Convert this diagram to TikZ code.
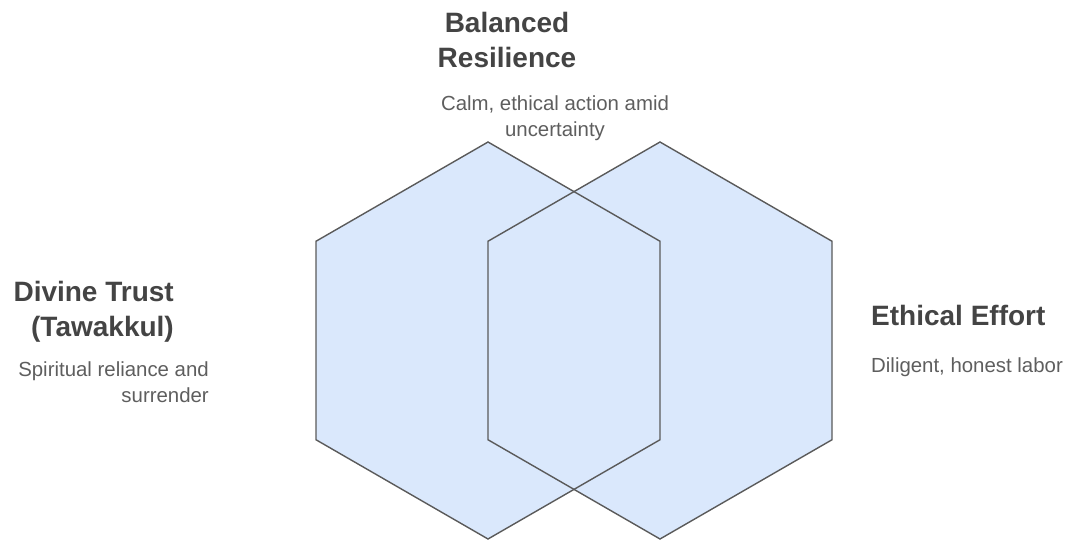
\documentclass[tikz,border=0pt]{standalone}
\usepackage{fontspec}
\setmainfont{Liberation Sans}
\definecolor{hexfill}{HTML}{DAE8FC}
\definecolor{hexline}{HTML}{5A5A5A}
\definecolor{headcol}{HTML}{444444}
\definecolor{subcol}{HTML}{5E5E5E}
\begin{document}
\begin{tikzpicture}[x=1pt,y=-1pt,
  headtext/.style={inner sep=0pt,text=headcol,font=\bfseries\fontsize{28}{35}\selectfont},
  subtext/.style={inner sep=0pt,text=subcol,font=\fontsize{20.4}{26}\selectfont},
  hexface/.style={fill=hexfill,draw=none},
  hexedge/.style={draw=hexline,line width=1.4pt,line join=miter}]
\useasboundingbox (0,0) rectangle (1067,540);

% pointy-top hexagon corners: radius 198.5 around the two centres
\foreach \cx/\nm in {488/L,660/R}{
  \coordinate (\nm1) at (\cx,142);
  \coordinate (\nm2) at (\cx+172,241.25);
  \coordinate (\nm3) at (\cx+172,439.75);
  \coordinate (\nm4) at (\cx,539);
  \coordinate (\nm5) at (\cx-172,439.75);
  \coordinate (\nm6) at (\cx-172,241.25);
}
% faces first, so that both outlines stay visible in the overlap
\foreach \nm in {L,R}
  \path[hexface] (\nm1) -- (\nm2) -- (\nm3) -- (\nm4) -- (\nm5) -- (\nm6) -- cycle;
\foreach \nm in {L,R}
  \path[hexedge] (\nm1) -- (\nm2) -- (\nm3) -- (\nm4) -- (\nm5) -- (\nm6) -- cycle;

% labels
\node[headtext,align=center,anchor=north] (resT) at (507,12) {Balanced\\Resilience};
\node[subtext,align=center,anchor=north] (resS) at (555,96) {Calm, ethical action amid\\uncertainty};

\node[headtext,align=right,anchor=north east] (trustT) at (174,281) {Divine Trust\\(Tawakkul)};
\node[subtext,align=right,anchor=north east] (trustS) at (209,362) {Spiritual reliance and\\surrender};

\node[headtext,align=left,anchor=north west] (effT) at (871,305) {Ethical Effort};
\node[subtext,align=left,anchor=north west] (effS) at (871,358) {Diligent, honest labor};
\end{tikzpicture}
\end{document}
